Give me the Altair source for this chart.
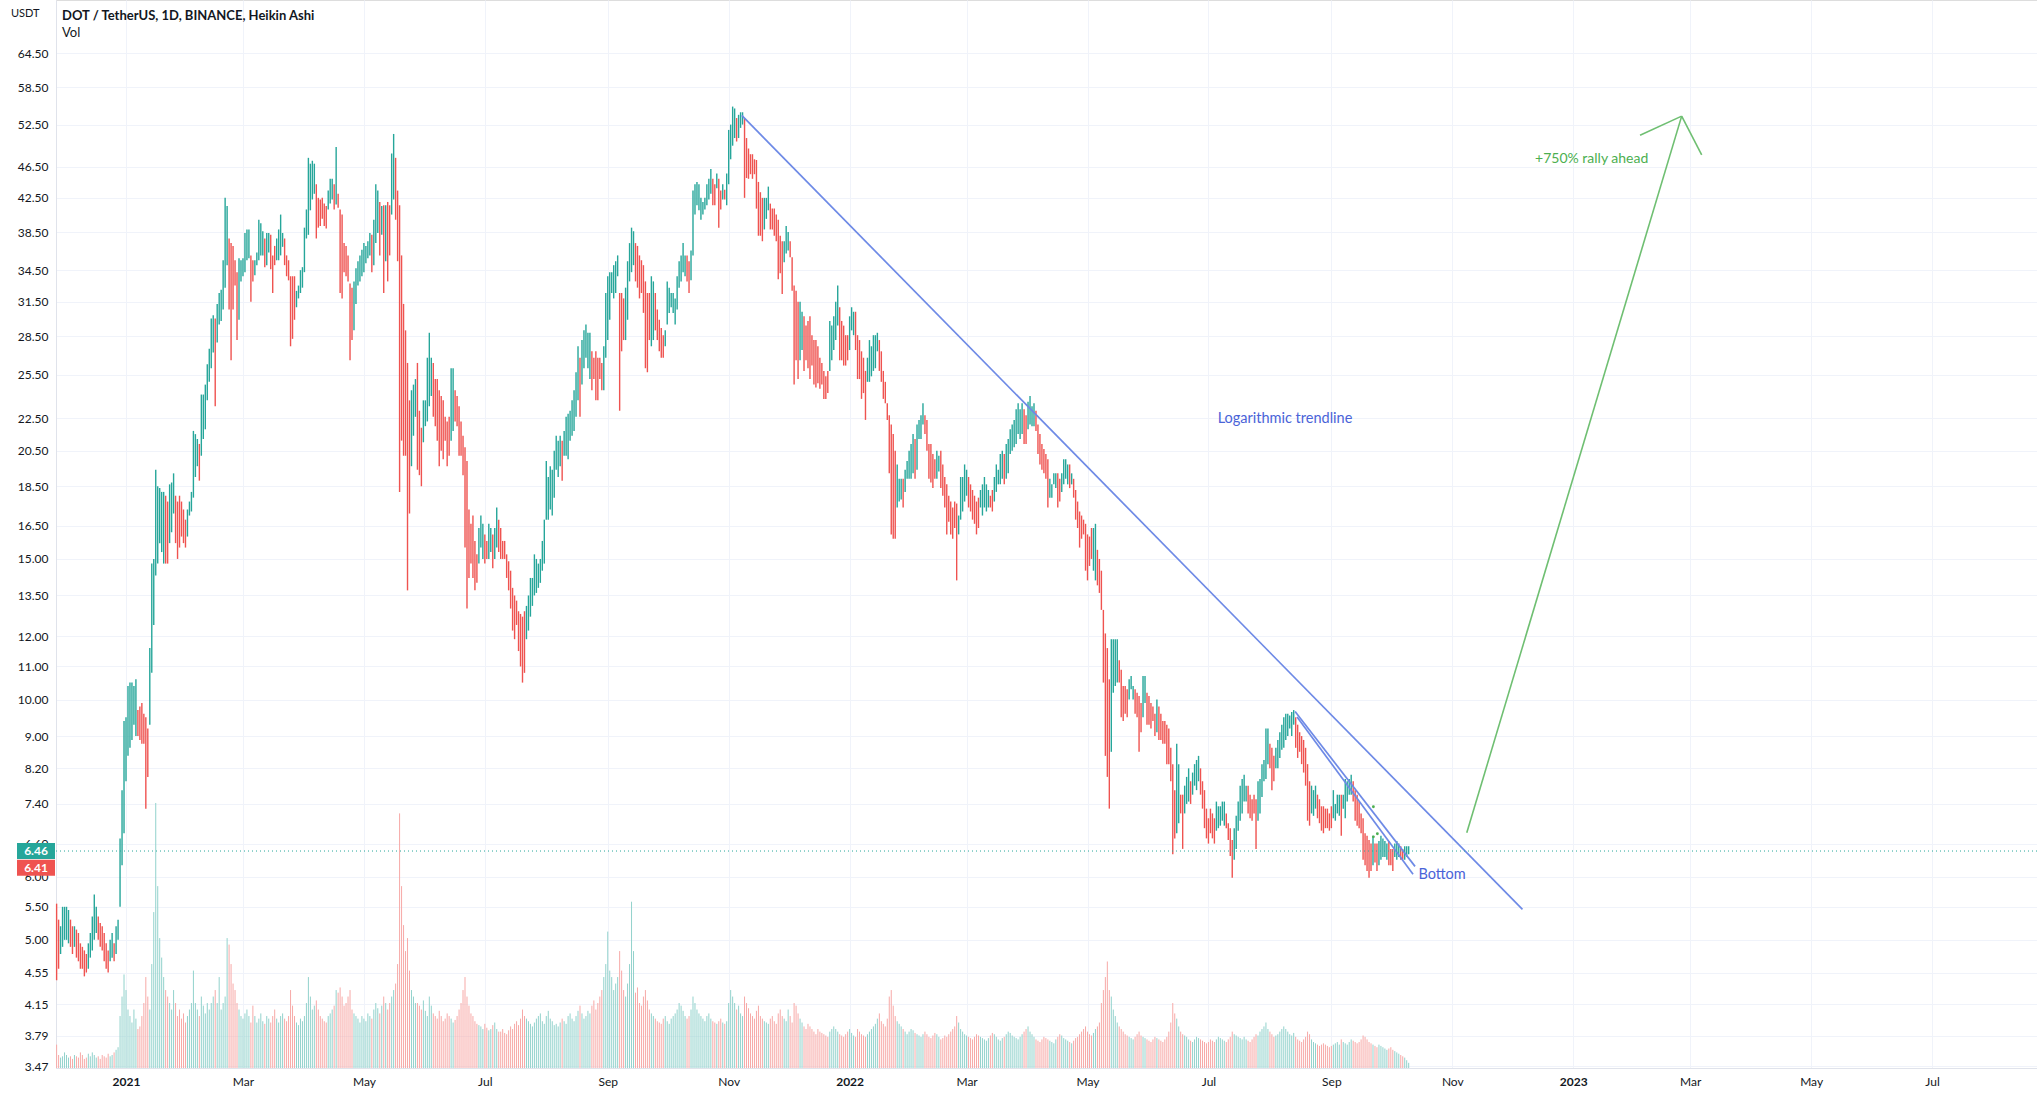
import altair as alt
import pandas as pd

# ---------------- data (daily Heikin Ashi candles) -------------
FIRST_DAY = -35   # days relative to 2021-01-01 (first candle = 2020-11-27)

LOW = [
    4.45,4.6,4.8,4.9,5.0,5.0,4.95,4.9,4.8,4.9,
    4.75,4.7,4.6,4.6,4.5,4.55,4.6,4.75,4.85,5.0,
    5.1,5.0,4.9,4.85,4.7,4.6,4.55,4.7,4.75,4.7,
    4.8,5.0,5.5,6.2,6.8,7.9,8.5,8.7,8.9,9.3,
    9.0,9.0,8.9,8.8,8.8,7.3,8.0,9.3,10.8,12.4,
    14.3,14.8,15.7,15.3,14.8,14.8,14.8,15.7,16.2,17.1,
    15.7,15.0,15.5,16.0,15.7,15.5,16.0,17.0,17.2,17.9,
    19.0,19.6,18.8,20.2,21.2,21.8,23.7,25.0,26.0,27.2,
    23.3,28.0,29.5,29.8,30.8,32.8,35.0,30.8,26.6,30.8,
    33.0,28.2,29.9,33.4,33.9,34.3,35.5,35.7,31.5,33.4,
    34.0,35.0,35.5,36.0,36.0,34.8,35.0,36.3,34.6,32.3,
    35.0,35.5,35.5,36.0,36.9,35.0,33.9,33.5,27.7,28.3,
    29.9,31.0,31.8,32.3,32.8,34.3,37.8,38.2,41.0,42.3,
    43.0,37.8,39.0,39.2,40.0,39.2,38.9,41.1,41.8,42.3,
    41.1,41.7,41.3,32.3,31.8,34.3,33.9,33.4,26.6,28.2,
    29.0,31.3,33.0,33.4,33.9,34.3,35.2,35.7,36.0,34.3,
    35.0,37.3,38.4,36.0,38.2,32.3,35.4,33.4,36.0,40.5,
    42.3,39.9,35.4,18.2,21.1,20.2,20.2,13.7,17.1,19.6,
    21.4,22.6,19.4,19.1,18.5,21.0,22.0,22.3,23.3,24.0,
    22.6,22.0,21.1,19.6,20.5,20.0,21.1,19.6,20.2,21.1,
    21.7,22.3,22.0,20.2,20.2,19.1,15.5,13.0,14.2,14.8,
    14.2,13.7,14.0,14.8,15.5,15.0,14.8,15.0,15.0,15.3,
    14.6,15.0,15.5,15.3,15.0,15.0,15.0,14.2,13.7,13.0,
    12.2,11.9,12.4,11.5,11.0,10.5,10.8,11.9,12.2,12.7,
    13.1,13.5,13.6,13.8,14.0,14.5,14.8,16.8,16.8,17.3,
    17.0,17.9,19.4,19.0,19.6,18.8,20.2,20.2,20.0,21.1,
    21.4,21.7,22.6,23.7,22.6,24.8,26.0,26.8,26.0,25.2,
    24.4,25.2,23.7,23.7,25.2,24.4,24.4,26.8,28.2,29.9,
    32.3,31.8,32.3,33.9,23.0,27.3,28.2,28.2,29.9,33.4,
    34.3,35.0,33.4,32.8,31.8,32.3,30.5,26.0,25.7,28.2,
    27.7,28.2,29.0,28.2,27.3,26.8,26.8,27.7,29.5,30.5,
    31.0,30.5,29.5,30.8,32.8,33.4,34.3,33.9,33.4,32.3,
    33.5,36.0,40.5,41.6,41.0,39.9,40.5,41.1,41.6,42.3,
    43.0,41.6,41.6,43.7,39.0,41.1,42.3,42.3,41.6,44.2,
    47.5,49.4,50.5,50.0,50.5,52.0,52.5,42.5,45.0,44.9,
    45.5,44.9,45.5,41.2,38.1,38.1,37.5,38.8,40.0,41.0,
    38.8,38.8,38.1,37.5,33.6,34.2,32.2,35.3,36.2,36.5,
    35.8,32.5,24.8,26.6,25.2,26.6,27.4,25.8,26.6,26.0,
    25.2,26.2,24.8,24.6,24.9,24.5,24.8,23.8,23.8,24.2,
    25.8,26.6,27.4,28.2,29.4,26.6,26.6,26.2,26.2,26.6,
    27.4,29.0,28.6,27.4,25.2,25.2,23.8,24.2,22.4,25.0,
    25.0,25.4,25.8,26.0,27.3,25.8,25.0,23.8,23.5,22.4,
    19.2,16.1,15.9,15.9,17.4,17.7,17.8,17.4,18.2,18.9,
    18.9,18.9,19.2,18.9,19.4,21.2,21.2,22.1,21.5,20.5,
    18.9,18.7,18.4,18.9,18.9,19.3,18.4,18.0,17.4,16.1,
    16.7,16.1,15.9,16.4,14.1,16.1,16.8,17.2,17.7,18.0,
    17.4,17.2,16.8,16.6,16.1,16.4,17.4,17.0,17.4,17.2,
    17.4,17.4,17.2,17.7,18.2,18.6,18.6,18.9,18.6,18.9,
    19.2,20.3,20.5,20.7,20.9,21.5,21.2,21.5,20.9,20.9,
    21.8,22.1,22.0,22.0,21.7,20.3,19.7,19.4,19.2,18.9,
    17.4,17.9,17.9,18.6,18.4,17.4,17.7,18.2,18.6,18.9,
    18.6,18.4,18.6,17.9,16.8,16.4,15.5,15.9,16.1,14.5,
    14.1,14.7,15.0,14.5,14.1,13.9,13.6,12.95,10.5,8.5,
    8.0,7.3,8.6,10.2,10.4,10.5,10.5,9.5,9.4,9.6,
    9.5,10.0,10.3,10.0,9.6,9.5,8.6,9.1,9.5,9.9,
    9.3,9.3,9.2,9.4,9.0,9.1,8.9,8.9,8.8,8.8,
    8.3,8.3,7.9,6.4,6.7,6.8,7.0,7.2,6.5,7.2,
    7.4,7.45,7.4,7.6,7.8,7.7,7.9,7.6,7.3,6.9,
    6.7,6.6,6.8,6.7,6.6,6.85,6.9,6.95,7.05,6.95,
    6.9,6.67,6.37,5.98,6.3,6.5,6.85,7.05,7.2,7.45,
    7.45,7.2,7.1,7.05,7.2,6.5,7.05,7.2,7.55,7.9,
    7.95,8.3,8.2,7.7,7.9,8.2,8.2,8.45,8.65,8.7,
    8.9,9.0,9.2,9.0,9.3,8.7,8.45,8.6,8.3,8.1,
    7.8,7.05,6.95,7.2,7.15,7.3,7.1,7.0,6.85,6.8,
    6.9,6.9,6.85,6.9,7.1,7.05,7.2,7.15,6.75,7.3,
    7.1,7.45,7.6,7.6,7.45,7.05,6.95,6.9,6.8,6.3,
    6.2,6.1,5.98,6.1,6.2,6.25,6.1,6.2,6.3,6.35,
    6.35,6.3,6.2,6.2,6.1,6.35,6.3,6.35,6.3,6.3,
    6.3,6.35,6.4,
]

HIGH = [
    5.55,5.3,5.2,5.5,5.5,5.5,5.45,5.3,5.2,5.2,
    5.15,5.1,4.95,4.9,4.85,4.8,4.95,5.1,5.35,5.7,
    5.5,5.35,5.25,5.2,5.1,4.95,4.85,5.0,5.1,4.95,
    5.2,5.3,6.7,7.7,9.4,9.5,10.4,10.5,10.5,10.4,
    10.6,9.7,9.8,9.9,9.6,9.5,9.2,11.6,14.8,15.0,
    19.4,18.5,18.4,18.2,18.2,18.0,17.7,18.6,18.7,19.2,
    18.0,17.7,18.0,17.7,17.3,16.8,17.3,17.7,18.2,21.7,
    21.5,21.2,20.9,24.1,24.1,24.8,26.3,27.5,30.0,30.3,
    30.0,31.3,32.3,32.6,35.5,42.5,41.5,37.8,37.3,37.0,
    35.5,34.3,35.7,35.5,35.7,38.4,38.8,38.8,36.0,35.5,
    35.5,36.3,39.9,39.5,38.6,37.8,38.4,38.4,38.2,36.0,
    37.0,37.8,38.8,40.5,38.4,37.8,36.0,35.5,33.9,33.9,
    33.9,32.5,33.0,34.5,34.8,39.0,41.1,47.7,46.9,47.3,
    46.9,44.2,42.5,42.3,42.5,41.8,41.5,43.4,44.9,44.9,
    44.2,49.2,43.0,41.1,40.5,37.3,37.0,36.0,33.2,32.8,
    33.4,34.7,35.4,36.0,36.6,37.3,37.0,37.5,38.4,38.2,
    39.9,44.2,43.4,42.0,41.5,41.6,41.6,42.0,41.6,48.3,
    51.1,47.7,43.4,41.6,36.0,31.3,29.0,26.4,23.7,24.4,
    24.8,25.2,26.4,23.0,21.9,23.7,23.7,26.8,28.8,26.8,
    26.4,25.2,25.2,24.4,24.0,23.7,22.6,22.3,22.6,26.0,
    26.0,24.4,24.0,23.3,22.3,21.4,20.7,19.9,17.3,16.6,
    17.0,15.8,15.2,16.4,17.0,16.6,16.1,15.8,16.6,16.4,
    16.1,16.4,17.4,16.8,16.4,15.8,15.8,15.2,14.9,14.5,
    13.8,13.5,13.3,12.9,12.8,12.7,12.9,13.1,13.5,14.2,
    14.2,15.2,15.0,14.8,15.0,15.8,16.8,19.9,19.0,19.6,
    19.4,20.5,21.4,21.1,21.4,21.1,21.7,22.6,22.8,23.0,
    23.7,24.4,25.7,27.7,26.8,28.2,29.0,29.5,28.8,28.8,
    27.3,26.8,27.3,26.8,26.8,26.4,27.7,32.3,33.9,34.3,
    34.3,35.0,35.4,36.0,32.3,32.3,31.8,32.8,35.4,37.3,
    39.0,38.6,37.3,37.0,36.0,35.5,35.0,33.4,32.3,32.3,
    33.9,33.4,32.3,30.8,29.9,29.2,28.6,29.0,33.4,32.8,
    32.3,32.3,31.8,33.9,35.4,36.0,37.3,36.0,36.0,35.4,
    36.5,43.4,44.2,44.5,44.2,42.5,42.0,42.5,44.2,44.9,
    46.2,44.9,44.2,45.6,44.9,43.4,44.2,43.5,45.6,51.7,
    52.5,55.3,55.0,53.5,54.0,54.4,54.4,53.5,50.5,49.0,
    48.2,48.2,47.5,47.4,44.5,43.2,42.5,42.5,42.5,43.9,
    41.8,41.2,41.2,40.5,39.9,38.1,37.5,37.5,39.2,38.5,
    37.5,35.8,33.0,32.5,31.5,31.5,30.6,30.2,29.4,29.8,
    30.2,28.6,28.2,28.2,27.7,26.8,26.4,25.8,25.4,25.8,
    29.8,29.4,30.2,31.5,33.0,31.0,29.8,29.4,28.6,28.6,
    30.2,31.0,30.6,30.6,28.6,28.2,27.3,26.8,25.8,26.8,
    28.2,27.7,28.6,28.6,28.8,28.2,27.3,25.8,25.0,23.5,
    22.7,22.1,21.5,20.5,19.7,18.9,18.9,18.9,19.4,19.9,
    20.5,20.9,21.5,21.2,22.1,22.4,22.7,23.5,22.7,22.4,
    20.9,20.9,20.3,20.0,20.5,20.2,20.5,19.7,19.0,18.6,
    18.0,17.7,17.4,17.7,17.6,17.0,19.0,19.0,19.7,19.4,
    19.0,18.6,18.3,18.0,17.7,17.9,18.3,18.6,19.0,18.6,
    18.3,18.0,18.3,19.0,19.7,19.4,20.3,20.5,20.3,20.9,
    21.2,21.8,22.1,22.4,23.1,23.5,23.1,23.5,23.1,22.7,
    23.6,24.0,23.3,23.5,23.0,22.1,21.5,20.9,20.6,20.3,
    20.0,18.9,18.6,19.2,19.2,19.2,18.9,19.2,20.0,20.0,
    19.7,19.7,19.2,18.9,18.3,17.7,17.2,17.0,16.8,16.6,
    16.1,16.0,16.4,16.4,16.6,15.4,15.0,14.5,12.95,12.1,
    11.6,10.6,11.9,11.9,11.9,11.9,11.2,10.9,10.4,10.4,
    10.3,10.6,10.7,10.4,10.3,10.2,10.1,9.9,10.7,10.7,
    10.2,10.1,9.9,9.8,9.6,10.0,9.8,9.6,9.4,9.4,
    9.3,9.2,8.7,8.3,7.7,8.8,8.3,7.6,7.6,7.8,
    8.0,8.2,7.9,8.1,8.3,8.4,8.5,8.2,7.9,7.7,
    7.3,7.1,7.3,7.2,7.1,7.45,7.35,7.35,7.45,7.45,
    7.2,7.0,6.9,6.67,6.9,7.15,7.45,7.8,7.95,8.05,
    7.8,7.8,7.6,7.5,7.6,7.5,7.9,7.95,8.3,8.4,
    9.2,9.2,8.8,8.7,8.5,8.7,8.9,9.1,9.3,9.5,
    9.6,9.6,9.55,9.65,9.7,9.5,9.3,9.1,9.0,8.9,
    8.7,8.3,7.9,7.8,7.7,7.8,7.6,7.5,7.35,7.35,
    7.3,7.3,7.2,7.35,7.7,7.4,7.6,7.6,7.6,7.6,
    7.95,7.9,7.95,8.05,7.9,7.7,7.6,7.45,7.2,7.1,
    6.8,6.75,6.67,6.6,6.75,6.6,6.6,6.65,6.75,6.7,
    6.65,6.6,6.65,6.5,6.5,6.6,6.65,6.6,6.55,6.5,
    6.55,6.55,6.55,
]

# G = rising (teal) candle, R = falling (red) candle
DIR = (
    "RRGGGGGRRG" "RRRRRRGGGG" "GRRRRRRGGR" "GGGGGGGGGG" "GRRRRRRGGG"
    "GGGGGRRGGG" "RRRRRRGGGG" "GGRGGGGGGG" "RGGGGGGRRR" "RRGGGGGGRR"
    "GGGGGRGGRR" "RGGGGRRRRR" "RGGGGGGGGG" "GRRRRRRGGG" "RGRRRRRRRR"
    "GGGGGGGGGR" "GGGRGRGRRG" "GRRRRRRRRG" "GGRRRGGGGG" "RRRRRRRRRG"
    "GRRRRRRRRR" "RRRGGGRRGG" "RGGRRRRRRR" "RRRRRRRGGG" "GGGGGGGGGG"
    "GGGGGRGGGG" "GGGGRGGGGG" "RRRRRRGGGG" "GGGGRRRGGG" "GGRRRRRRRR"
    "GGRRRRRGGG" "GGGGGGGGRR" "GGGGGGGGGG" "GRRGRRGRGG" "GGGRGGGRRR"
    "RRRRRRRGGG" "RRRRRRRGGG" "RRRRRGGRRR" "RRRRRRRRRR" "GGGGGRRRRR"
    "GGGRRRRRRG" "GGGGGRRRRR" "RRRRGGGRGG" "GGGRGGGGRR" "RRRRGGRRRR"
    "RRRRRGGGGG" "RRRRRRGGGG" "GRRGGGGGRG" "GGGGGGGGRR" "GGGGRRRRRR"
    "RGGGGRRGGG" "GRGRRRRRRR" "RRRGGRRRRR" "RRGGGGRRRR" "RGGGRRRRGG"
    "RRRRRGRRRR" "RRRRRGGRRG" "GGRGGGGRRR" "RRRRRGGGGG" "RRRRGGGGGG"
    "GRRRRRGGGG" "GGRRRGGGGG" "GGGGGRRRRR" "RRRGGGRRRR" "RRRRGGGGRG"
    "GGGGRRRRRR" "RRRRGRRGGG" "GGRRRGGGRR" "GGG"
)

# daily volume (relative units, read as bar heights)
VOL = [
    18,10,8,9,12,10,8,9,7,10,
    9,8,12,10,7,8,11,9,12,10,
    8,9,7,10,9,8,11,9,10,12,
    14,16,40,55,72,60,45,40,35,45,
    38,30,32,40,50,70,55,45,80,120,
    204,140,100,85,70,60,55,50,45,60,
    50,40,45,38,42,35,40,45,50,75,
    50,45,40,55,48,42,50,45,50,55,
    60,50,70,45,50,55,100,95,80,65,
    60,50,45,40,38,42,45,40,35,48,
    40,35,38,42,36,34,40,38,35,40,
    45,38,35,40,42,38,36,40,60,48,
    40,35,33,38,36,40,50,70,55,45,
    48,52,45,40,38,36,35,40,42,45,
    48,60,58,62,55,48,50,55,60,45,
    42,40,38,35,40,38,36,42,40,38,
    45,50,46,42,48,55,50,45,50,55,
    60,65,80,196,140,110,90,100,75,60,
    55,50,50,48,45,52,44,40,55,48,
    42,40,38,44,40,36,38,42,40,38,
    35,37,40,45,50,60,70,55,48,42,
    40,36,34,33,32,30,34,31,29,30,
    33,35,30,28,28,30,27,26,29,32,
    30,34,36,33,38,45,40,38,36,34,
    32,35,38,40,42,36,34,40,44,38,
    36,33,34,32,35,38,36,34,40,42,
    38,36,40,44,48,42,38,40,44,42,
    48,52,45,50,55,60,70,80,105,75,
    70,60,65,70,90,75,60,55,65,80,
    128,90,58,62,50,48,55,60,52,45,
    42,40,38,36,35,34,38,40,36,34,
    38,40,42,45,50,48,44,40,38,40,
    45,55,50,45,42,40,38,36,40,42,
    38,36,35,34,36,38,35,34,36,50,
    60,55,50,45,48,42,40,55,50,46,
    42,40,38,44,48,40,38,36,35,34,
    38,40,36,34,42,45,40,38,36,45,
    40,35,50,48,42,38,35,32,30,34,
    32,30,28,26,30,28,27,26,25,24,
    28,30,32,30,28,26,25,24,26,28,
    30,27,25,24,30,28,26,25,24,26,
    28,30,32,34,38,42,36,34,32,38,
    55,60,48,40,36,34,32,30,28,26,
    28,30,29,27,26,25,24,26,28,26,
    24,23,25,27,26,24,22,23,25,24,
    26,28,30,32,40,35,30,28,26,25,
    24,23,22,24,26,25,24,23,22,21,
    23,25,27,26,24,22,21,23,24,26,
    28,27,25,24,23,22,24,26,28,30,
    32,28,26,24,22,21,20,22,24,23,
    22,21,20,19,22,24,26,25,23,22,
    21,20,19,21,23,24,26,28,30,32,
    28,26,25,27,30,32,35,50,60,70,
    82,60,55,45,40,35,32,30,28,26,
    25,24,23,22,24,26,28,25,24,23,
    22,21,20,22,24,23,22,21,20,22,
    24,28,35,50,42,38,32,28,26,25,
    24,22,21,20,22,24,23,22,21,20,
    19,20,22,21,20,22,24,23,22,21,
    20,22,24,28,26,25,24,23,22,24,
    22,21,20,22,24,26,25,28,30,32,
    35,30,28,26,24,25,26,28,30,32,
    30,28,26,25,27,24,22,21,20,22,
    24,28,26,22,20,19,18,17,18,19,
    18,17,16,17,18,19,20,18,22,20,
    19,18,20,22,21,20,19,20,22,25,
    24,22,20,19,18,17,16,18,17,16,
    15,14,15,16,14,13,12,11,10,9,
    8,6,4,
]

# axis ticks
X_TICKS = [0, 59, 120, 181, 243, 304, 365, 424, 485, 546, 608, 669, 730, 789, 850, 911]
X_LABELS = ["2021", "Mar", "May", "Jul", "Sep", "Nov", "2022", "Mar", "May", "Jul",
            "Sep", "Nov", "2023", "Mar", "May", "Jul"]
Y_TICKS = [3.47, 3.79, 4.15, 4.55, 5.00, 5.50, 6.00, 6.60, 7.40, 8.20, 9.00, 10.00,
           11.00, 12.00, 13.50, 15.00, 16.50, 18.50, 20.50, 22.50, 25.50, 28.50,
           31.50, 34.50, 38.50, 42.50, 46.50, 52.50, 58.50, 64.50]

# last price tags
LAST_PRICE = 6.46
HA_CLOSE = 6.41

# drawings (day, price)
TREND_DAY, TREND_PRICE = [310.6, 704.4], [53.9, 5.46]
CH_A_DAY, CH_A_PRICE = [589.7, 650.2], [9.66, 6.18]
CH_B_DAY, CH_B_PRICE = [590.7, 649.2], [9.51, 6.04]
ARROW_DAY = [676.3, 784.7, 763.7, 794.8]      # start, tip, left wing, right wing
ARROW_PRICE = [6.81, 53.8, 50.9, 48.1]
DOT_DAY, DOT_PRICE = [629.2, 629.2, 631.2], [7.34, 6.73, 6.79]

NOTES = ["Logarithmic trendline", "Bottom", "+750% rally ahead"]
NOTE_DAY = [584.6, 651.9, 739.3]
NOTE_PRICE = [22.43, 6.02, 47.55]

TITLE = "DOT / TetherUS, 1D, BINANCE, Heikin Ashi"

# ---------------- build ----------------
n = len(LOW)
assert len(HIGH) == n and len(DIR) == n and len(VOL) == n, (len(LOW), len(HIGH), len(DIR), len(VOL))

UP, DOWN = "#26a69a", "#ef5350"
UP_V, DOWN_V = "#92d2cc", "#f7a9a7"
BLUE = "#6e8ae6"
BLUE_TXT = "#4a63d8"
GREEN = "#6fbf72"
GREEN_TXT = "#4caf50"
FONT = "Lato"

df = pd.DataFrame({
    "day": [FIRST_DAY + i for i in range(n)],
    "low": LOW, "high": HIGH, "vol": VOL,
    "col": [UP if d == "G" else DOWN for d in DIR],
    "vcol": [UP_V if d == "G" else DOWN_V for d in DIR],
})
df["v0"] = 0

W, H = 1981, 1068
xs = alt.Scale(domain=[-35.31, 963.93], nice=False, zero=False)
ys = alt.Scale(type="log", domain=[3.455, 75.2], nice=False)

label_expr = "".join(f"datum.value == {v} ? '{l}' : " for v, l in zip(X_TICKS, X_LABELS)) + "''"
year_test = " || ".join(f"datum.value == {v}" for v, l in zip(X_TICKS, X_LABELS) if l.isdigit())

XAX = alt.Axis(values=X_TICKS, labelExpr=label_expr, grid=True, gridColor="#f0f3fa",
               ticks=False, domain=True, domainColor="#e0e3eb", labelFont=FONT,
               labelFontSize=12, labelColor="#131722", labelPadding=8, title=None,
               labelOverlap=False, labelFlush=False,
               labelFontWeight={"condition": {"test": year_test, "value": "bold"}, "value": "normal"})
YAX = alt.Axis(values=Y_TICKS, format=".2f", grid=True, gridColor="#f0f3fa", ticks=False,
               domain=True, domainColor="#e0e3eb", labelFont=FONT, labelFontSize=12,
               labelColor="#131722", labelPadding=8, title=None, labelOverlap=False,
               labelFlush=False)

X = alt.X("day:Q", scale=xs, axis=XAX)

vol = alt.Chart(df).mark_rule(strokeWidth=1.0).encode(
    x=X,
    y=alt.Y("vol:Q", scale=alt.Scale(domain=[0, 822.1], nice=False, zero=True), axis=None),
    y2="v0:Q",
    color=alt.Color("vcol:N", scale=None),
)

candles = alt.Chart(df).mark_rule(strokeWidth=1.4).encode(
    x=X,
    y=alt.Y("low:Q", scale=ys, axis=YAX),
    y2="high:Q",
    color=alt.Color("col:N", scale=None),
)

lines_df = pd.DataFrame({
    "seg": ["t", "t", "a", "a", "b", "b"],
    "day": TREND_DAY + CH_A_DAY + CH_B_DAY,
    "price": TREND_PRICE + CH_A_PRICE + CH_B_PRICE,
})
blue_lines = alt.Chart(lines_df).mark_line(color=BLUE, strokeWidth=1.7).encode(
    x=X, y=alt.Y("price:Q", scale=ys, axis=YAX), detail="seg:N")

arrow_df = pd.DataFrame({
    "seg": ["m", "m", "l", "l", "r", "r"],
    "day": [ARROW_DAY[0], ARROW_DAY[1], ARROW_DAY[1], ARROW_DAY[2], ARROW_DAY[1], ARROW_DAY[3]],
    "price": [ARROW_PRICE[0], ARROW_PRICE[1], ARROW_PRICE[1], ARROW_PRICE[2], ARROW_PRICE[1], ARROW_PRICE[3]],
})
arrow = alt.Chart(arrow_df).mark_line(color=GREEN, strokeWidth=1.6).encode(
    x=X, y=alt.Y("price:Q", scale=ys, axis=YAX), detail="seg:N")

dots = alt.Chart(pd.DataFrame({"day": DOT_DAY, "price": DOT_PRICE})).mark_circle(
    color=GREEN_TXT, size=8, opacity=1).encode(x=X, y=alt.Y("price:Q", scale=ys, axis=YAX))

last_df = pd.DataFrame({"price": [LAST_PRICE]})
dotted = alt.Chart(last_df).mark_rule(color=UP, strokeDash=[1, 3], strokeWidth=1).encode(
    y=alt.Y("price:Q", scale=ys, axis=YAX))

TAG_PATH = "M-1,-0.42H1V0.42H-1Z"
tag1 = alt.Chart(last_df).mark_point(shape=TAG_PATH, size=1444, filled=True, color=UP,
                                     opacity=1, strokeWidth=0).encode(
    x=alt.value(-20), y=alt.Y("price:Q", scale=ys, axis=YAX))
tag1_t = alt.Chart(last_df).mark_text(color="white", fontWeight="bold", fontSize=12,
                                      font=FONT, baseline="middle").encode(
    x=alt.value(-20), y=alt.Y("price:Q", scale=ys, axis=YAX), text=alt.Text("price:Q", format=".2f"))
ha_df = pd.DataFrame({"price": [HA_CLOSE]})
tag2 = alt.Chart(ha_df).mark_point(shape=TAG_PATH, size=1444, filled=True, color=DOWN,
                                   opacity=1, strokeWidth=0, yOffset=14).encode(
    x=alt.value(-20), y=alt.Y("price:Q", scale=ys, axis=YAX))
tag2_t = alt.Chart(ha_df).mark_text(color="white", fontWeight="bold", fontSize=12, font=FONT,
                                    baseline="middle", yOffset=14).encode(
    x=alt.value(-20), y=alt.Y("price:Q", scale=ys, axis=YAX), text=alt.Text("price:Q", format=".2f"))

notes_df = pd.DataFrame({"day": NOTE_DAY, "price": NOTE_PRICE, "label": NOTES})
note_log = alt.Chart(notes_df.iloc[[0]]).mark_text(color=BLUE_TXT, fontSize=14.5, font=FONT,
                                                    align="center", baseline="middle").encode(
    x=X, y=alt.Y("price:Q", scale=ys, axis=YAX), text="label:N")
note_bottom = alt.Chart(notes_df.iloc[[1]]).mark_text(color=BLUE_TXT, fontSize=14.5, font=FONT,
                                                       align="left", baseline="middle").encode(
    x=X, y=alt.Y("price:Q", scale=ys, axis=YAX), text="label:N")
note_rally = alt.Chart(notes_df.iloc[[2]]).mark_text(color=GREEN_TXT, fontSize=14, font=FONT,
                                                      align="center", baseline="middle").encode(
    x=X, y=alt.Y("price:Q", scale=ys, axis=YAX), text="label:N")

title_t = alt.Chart(pd.DataFrame({"label": [TITLE]})).mark_text(
    align="left", baseline="middle", fontSize=13, fontWeight="bold", font=FONT, color="#131722"
).encode(x=alt.value(6), y=alt.value(16), text="label:N")
vol_t = alt.Chart(pd.DataFrame({"label": ["Vol"]})).mark_text(
    align="left", baseline="middle", fontSize=13, font=FONT, color="#131722"
).encode(x=alt.value(6), y=alt.value(33), text="label:N")
usdt_t = alt.Chart(pd.DataFrame({"label": ["USDT"]})).mark_text(
    align="left", baseline="middle", fontSize=11, font=FONT, color="#131722"
).encode(x=alt.value(-45), y=alt.value(14), text="label:N")

price = alt.layer(candles, blue_lines, arrow, dots, dotted, note_log, note_bottom, note_rally,
                  tag1, tag1_t, tag2, tag2_t, title_t, vol_t, usdt_t)

chart = alt.layer(vol, price).resolve_scale(y="independent").properties(
    width=W, height=H,
    padding={"left": 56, "top": 0, "right": 0, "bottom": 28},
    autosize=alt.AutoSizeParams(type="none"),
).configure_view(stroke=None).configure(background="white", font=FONT)

chart.save("out.html", embed_options={"renderer": "svg", "actions": False})
